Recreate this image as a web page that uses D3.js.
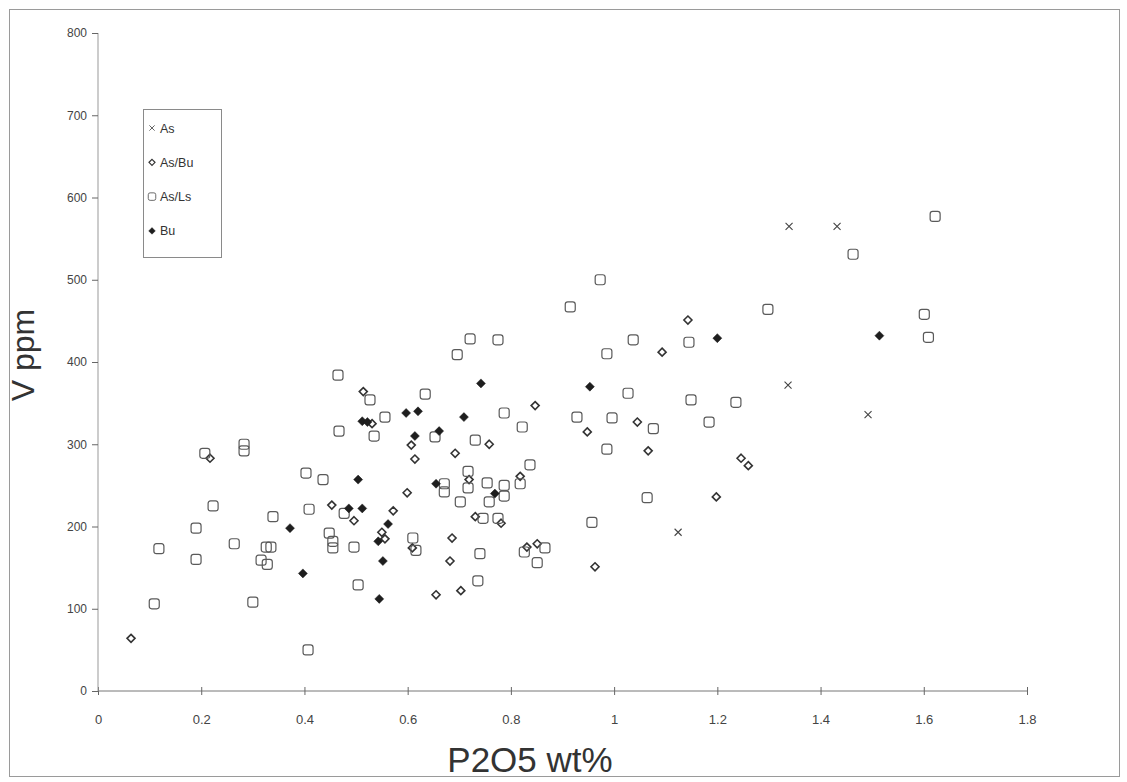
<!DOCTYPE html>
<html>
<head>
<meta charset="utf-8">
<script src="https://cdn.jsdelivr.net/npm/d3@7"></script>
<style>
    body { margin: 0; background: #fff; }
    svg { display: block; font-family: "Liberation Sans", Arial, sans-serif; }
</style>
</head>
<body>
<div id="chart"></div>
<script>
// values: [P2O5 wt%, V ppm]
const xTicks = [0, 0.2, 0.4, 0.6, 0.8, 1, 1.2, 1.4, 1.6, 1.8]
const yTicks = [0, 100, 200, 300, 400, 500, 600, 700, 800]
const seriesNames = ['As', 'As/Bu', 'As/Ls', 'Bu']

const asPoints = [
    [1.339, 565], [1.432, 565], [1.337, 372], [1.492, 336], [1.124, 193]
]

const asBuPoints = [
    [0.064, 64], [0.217, 283], [0.514, 364], [0.531, 325], [0.847, 347],
    [0.607, 299], [0.948, 315], [0.758, 300], [0.692, 289], [0.614, 282],
    [0.719, 257], [0.818, 261], [0.599, 241], [0.453, 226], [0.496, 207],
    [0.572, 219], [0.731, 212], [0.781, 204], [0.550, 193], [0.556, 185],
    [0.609, 174], [0.686, 186], [0.682, 158], [0.831, 175], [0.851, 179],
    [0.963, 151], [0.655, 117], [0.703, 122], [1.143, 451], [1.093, 412],
    [1.045, 327], [1.066, 292], [1.246, 283], [1.260, 274], [1.198, 236]
]

const asLsPoints = [
    [0.109, 106], [0.118, 173], [0.190, 198], [0.190, 160], [0.207, 289],
    [0.223, 225], [0.264, 179], [0.283, 300], [0.283, 292], [0.300, 108],
    [0.316, 159], [0.328, 154], [0.326, 175], [0.335, 175], [0.339, 212],
    [0.403, 265], [0.409, 221], [0.407, 50], [0.436, 257], [0.448, 192],
    [0.455, 182], [0.455, 174], [0.465, 384], [0.467, 316], [0.477, 216],
    [0.496, 175], [0.504, 129], [0.527, 354], [0.535, 310], [0.556, 333],
    [0.610, 186], [0.616, 171], [0.634, 361], [0.653, 309], [0.671, 252],
    [0.671, 242], [0.696, 409], [0.702, 230], [0.717, 267], [0.717, 247],
    [0.721, 428], [0.731, 305], [0.736, 134], [0.740, 167], [0.746, 210],
    [0.754, 253], [0.758, 230], [0.775, 427], [0.775, 210], [0.787, 338],
    [0.787, 250], [0.787, 237], [0.818, 252], [0.822, 321], [0.826, 169],
    [0.837, 275], [0.851, 156], [0.866, 174], [0.915, 467], [0.928, 333],
    [0.957, 205], [0.973, 500], [0.986, 410], [0.986, 294], [0.996, 332],
    [1.027, 362], [1.037, 427], [1.064, 235], [1.076, 319], [1.145, 424],
    [1.149, 354], [1.184, 327], [1.236, 351], [1.298, 464], [1.463, 531],
    [1.601, 458], [1.609, 430], [1.622, 577]
]

const buPoints = [
    [0.372, 198], [0.397, 143], [0.504, 257], [0.486, 222], [0.512, 222],
    [0.512, 328], [0.522, 327], [0.597, 338], [0.620, 340], [0.614, 310],
    [0.661, 316], [0.709, 333], [0.742, 374], [0.953, 370], [0.655, 252],
    [0.769, 240], [0.562, 203], [0.543, 182], [0.552, 158], [0.545, 112],
    [1.200, 429], [1.514, 432]
]

const width = 1127
const height = 782

const svg = d3.select('#chart')
    .append('svg')
    .attr('width', width)
    .attr('height', height)

// scanned page frame
svg.append('rect')
    .attr('x', 9.5).attr('y', 9.5)
    .attr('width', 1110).attr('height', 767)
    .style('fill', 'none')
    .style('stroke', '#9a9a9a')

const x = d3.scaleLinear().domain([0, 1.8]).range([98, 1027])
const y = d3.scaleLinear().domain([0, 800]).range([691, 33])

// x axis, ticks crossing the line
const xAxis = svg.append('g')
    .attr('transform', `translate(0,${y(0)})`)
    .call(d3.axisBottom(x).tickValues(xTicks).tickSize(4).tickPadding(20)
        .tickFormat(d3.format('')))
xAxis.select('.domain').attr('d', `M${x(0)},0H${x(1.8)}`).style('stroke', '#777')
xAxis.selectAll('.tick line').attr('y1', -4).style('stroke', '#666')
xAxis.selectAll('.tick text')
    .style('font-size', '13px')
    .style('fill', '#444')

const yAxis = svg.append('g')
    .attr('transform', `translate(${x(0)},0)`)
    .call(d3.axisLeft(y).tickValues(yTicks).tickSize(6).tickPadding(5))
yAxis.select('.domain').attr('d', `M0,${y(800)}V${y(0)}`).style('stroke', '#999')
yAxis.selectAll('.tick line').style('stroke', '#666')
yAxis.selectAll('.tick text')
    .style('font-size', '12px')
    .style('fill', '#444')
svg.selectAll('.domain, .tick line').style('stroke-width', 1)

// axis titles
svg.append('text')
    .attr('transform', 'translate(34,355) rotate(-90)')
    .attr('text-anchor', 'middle')
    .style('font-size', '32px')
    .style('fill', '#333')
    .text('V ppm')

svg.append('text')
    .attr('x', 530)
    .attr('y', 772)
    .attr('text-anchor', 'middle')
    .style('font-size', '35px')
    .style('fill', '#333')
    .text('P2O5 wt%')

// marker shapes
const crossPath = 'M-3.5,-3.5L3.5,3.5M-3.5,3.5L3.5,-3.5'
const diamondPath = 'M0,-4L4,0L0,4L-4,0Z'
const squarePath = 'M-2.5,-5H2.5Q5,-5 5,-2.5V2.5Q5,5 2.5,5H-2.5Q-5,5 -5,2.5V-2.5Q-5,-5 -2.5,-5Z'
const filledPath = 'M0,-4.5L4.5,0L0,4.5L-4.5,0Z'

const styles = {
    'As': {path: crossPath, fill: 'none', stroke: '#444', sw: 1.1},
    'As/Bu': {path: diamondPath, fill: 'none', stroke: '#333', sw: 1.6},
    'As/Ls': {path: squarePath, fill: 'none', stroke: '#5a5a5a', sw: 1.2},
    'Bu': {path: filledPath, fill: '#1e1e1e', stroke: '#1e1e1e', sw: 0.5}
}

const series = [
    {name: 'As', points: asPoints},
    {name: 'As/Bu', points: asBuPoints},
    {name: 'As/Ls', points: asLsPoints},
    {name: 'Bu', points: buPoints}
]

series.forEach(s => {
    const st = styles[s.name]
    svg.append('g')
        .selectAll('path')
        .data(s.points)
        .enter()
        .append('path')
        .attr('transform', d => `translate(${x(d[0])},${y(d[1])})`)
        .attr('d', st.path)
        .style('fill', st.fill)
        .style('stroke', st.stroke)
        .style('stroke-width', st.sw)
})

// legend
const legend = svg.append('g')
legend.append('rect')
    .attr('x', 143.5).attr('y', 109.5)
    .attr('width', 78).attr('height', 148)
    .style('fill', '#fff')
    .style('stroke', '#8a8a8a')

seriesNames.forEach((name, i) => {
    const st = styles[name]
    const ly = 128 + i * 34.3
    legend.append('path')
        .attr('transform', `translate(152,${ly}) scale(0.75)`)
        .attr('d', st.path)
        .style('fill', st.fill)
        .style('stroke', st.stroke)
        .style('stroke-width', st.sw)
    legend.append('text')
        .attr('x', 160)
        .attr('y', ly + 4.5)
        .style('font-size', '12.5px')
        .style('fill', '#333')
        .text(name)
})
</script>
</body>
</html>
